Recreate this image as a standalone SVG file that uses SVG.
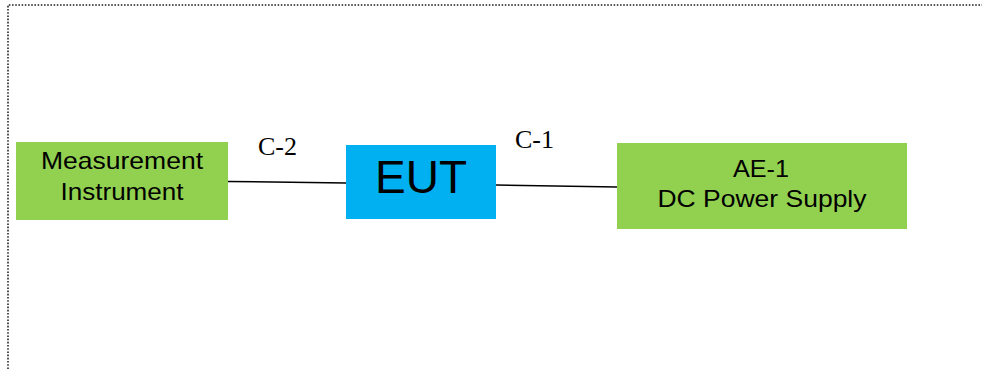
<svg xmlns="http://www.w3.org/2000/svg" width="982" height="369" viewBox="0 0 982 369">
<style>
.g{fill:#92D050}
.b{fill:#00B0F0}
.t{font-family:"Liberation Sans",Arial,sans-serif;fill:#000;text-anchor:middle}
.c{font-family:"Liberation Serif","Times New Roman",serif;fill:#000;font-size:26px}
.w{stroke:#000;stroke-width:1.5;fill:none}
.border{stroke:#222;stroke-width:1.6;stroke-dasharray:1.6 1.6;fill:none}
</style>
<rect width="982" height="369" fill="#fff"/>
<path class="border" d="M8 369 V5 H982"/>
<g id="connectors">
<line class="w" x1="228" y1="181.5" x2="346" y2="183"/>
<line class="w" x1="496" y1="185" x2="617" y2="187"/>
<text class="c" x="258" y="155">C-2</text>
<text class="c" x="515" y="148">C-1</text>
</g>
<g id="measurement">
<rect class="g" x="16" y="142" width="212" height="78"/>
<text class="t" x="122" y="169" font-size="24" textLength="162" lengthAdjust="spacingAndGlyphs">Measurement</text>
<text class="t" x="122" y="200" font-size="24" textLength="123" lengthAdjust="spacingAndGlyphs">Instrument</text>
</g>
<g id="eut">
<rect class="b" x="346" y="145" width="150" height="74"/>
<text class="t" x="421" y="193" font-size="46">EUT</text>
</g>
<g id="ae1">
<rect class="g" x="617" y="143" width="290" height="86"/>
<text class="t" x="761" y="177" font-size="24.5" textLength="56" lengthAdjust="spacingAndGlyphs">AE-1</text>
<text class="t" x="762" y="207" font-size="24.5" textLength="209" lengthAdjust="spacingAndGlyphs">DC Power Supply</text>
</g>
</svg>
